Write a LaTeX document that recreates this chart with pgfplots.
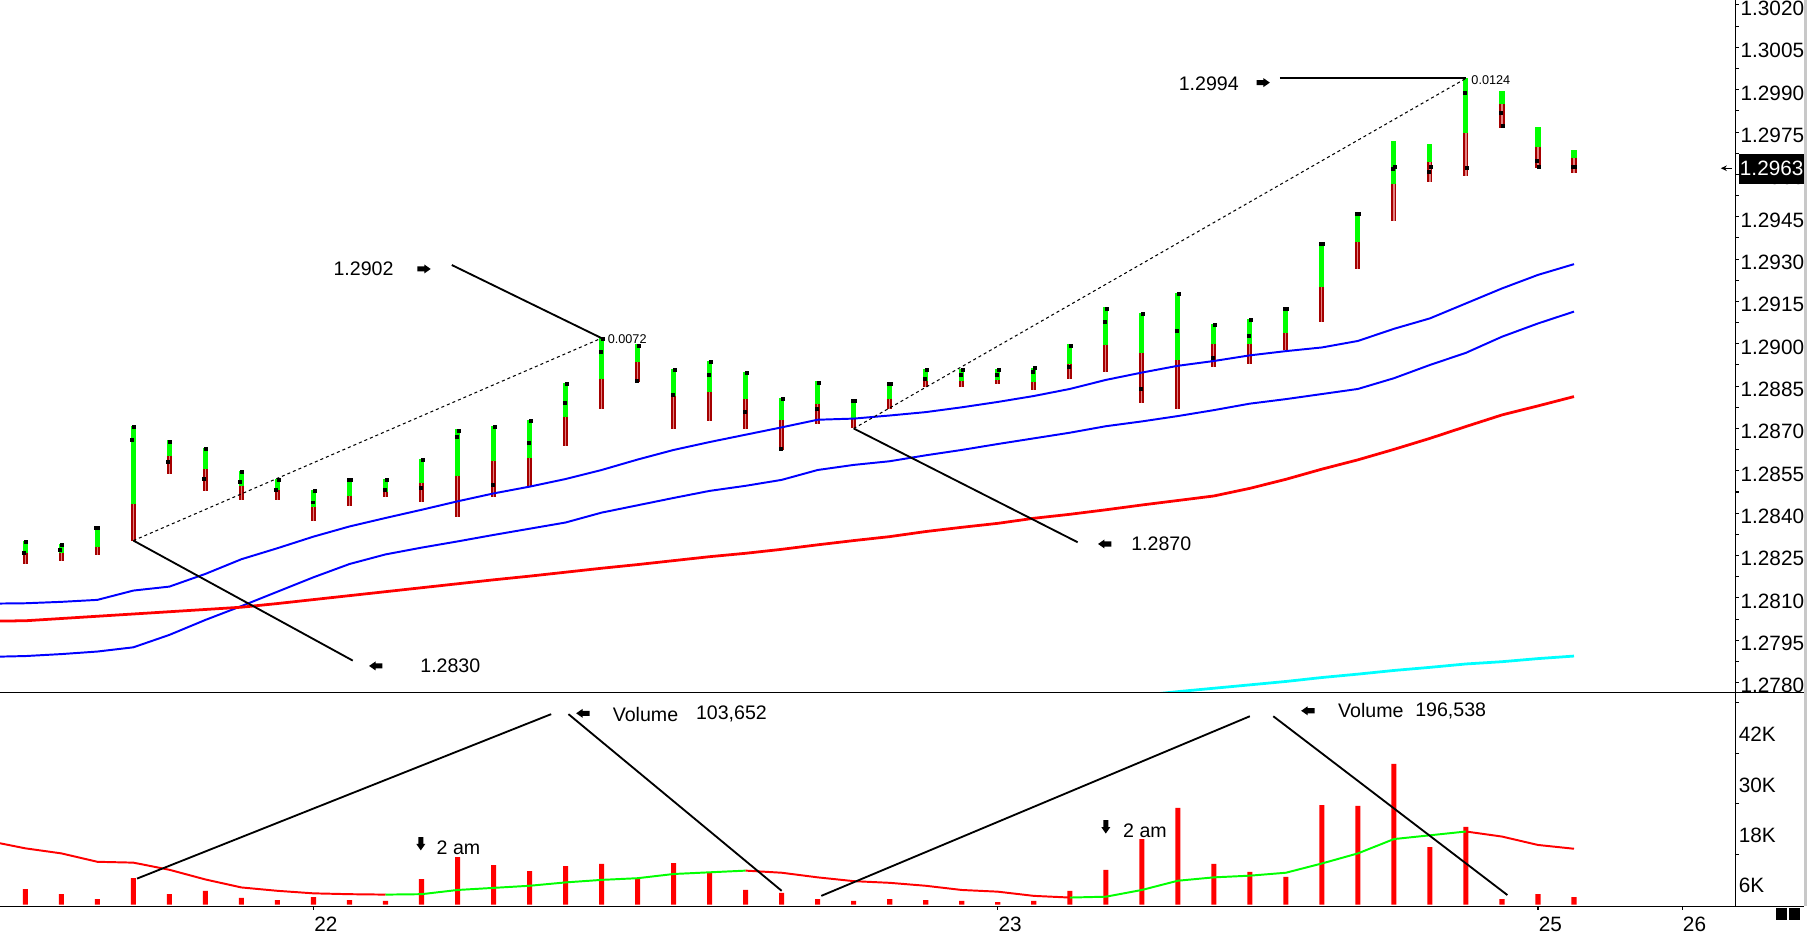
\documentclass[border=0pt]{standalone}
\usepackage{fontspec}
\setmainfont{Liberation Sans}
\usepackage{pgfplots}
\usepackage{pgfplotstable}
\pgfplotsset{compat=1.18}
\usetikzlibrary{arrows.meta}

\definecolor{bargreen}{RGB}{0,255,0}
\definecolor{bardred}{RGB}{165,0,0}
\definecolor{barlred}{RGB}{225,130,130}
\definecolor{mablue}{RGB}{0,0,255}
\definecolor{mared}{RGB}{255,0,0}
\definecolor{macyan}{RGB}{0,255,255}
\definecolor{edgegray}{RGB}{200,200,200}

\newcommand\annfont{\fontsize{8.5}{10}\selectfont}
\newcommand\tickfont{\fontsize{9}{10}\selectfont}
\newcommand\smallfont{\fontsize{5.5}{6}\selectfont}

\tikzset{blockarrow/.pic={\fill[black] (-2.9pt,-1.1pt) -- (0.1pt,-1.1pt) -- (0.1pt,-1.95pt) -- (2.9pt,0pt) -- (0.1pt,1.95pt) -- (0.1pt,1.1pt) -- (-2.9pt,1.1pt) -- cycle;}}

% price bars: high, green/red split, low, open, close
\pgfplotstableread{
i h s l o c
0 1.28302 1.28260 1.28219 1.28258 1.28298
1 1.28291 1.28258 1.28230 1.28270 1.28287
2 1.28351 1.28282 1.28251 1.28348 1.28348
3 1.28709 1.28432 1.28303 1.28658 1.28704
4 1.28658 1.28602 1.28538 1.28580 1.28654
5 1.28630 1.28556 1.28480 1.28520 1.28626
6 1.28548 1.28496 1.28448 1.28509 1.28545
7 1.28521 1.28482 1.28448 1.28481 1.28517
8 1.28481 1.28422 1.28371 1.28438 1.28477
9 1.28520 1.28461 1.28427 1.28516 1.28516
10 1.28521 1.28475 1.28458 1.28481 1.28516
11 1.28591 1.28507 1.28438 1.28488 1.28587
12 1.28697 1.28532 1.28388 1.28670 1.28693
13 1.28708 1.28585 1.28458 1.28499 1.28704
14 1.28729 1.28595 1.28497 1.28647 1.28725
15 1.28860 1.28741 1.28639 1.28789 1.28856
16 1.29020 1.28875 1.28768 1.28970 1.29017
17 1.28999 1.28934 1.28866 1.28870 1.28994
18 1.28909 1.28815 1.28697 1.28817 1.28906
19 1.28938 1.28829 1.28727 1.28888 1.28934
20 1.28900 1.28804 1.28697 1.28757 1.28895
21 1.28808 1.28730 1.28624 1.28629 1.28804
22 1.28867 1.28786 1.28717 1.28768 1.28863
23 1.28798 1.28735 1.28700 1.28797 1.28797
24 1.28860 1.28804 1.28768 1.28856 1.28856
25 1.28909 1.28868 1.28848 1.28877 1.28906
26 1.28909 1.28868 1.28848 1.28888 1.28906
27 1.28909 1.28871 1.28859 1.28888 1.28906
28 1.28916 1.28864 1.28837 1.28901 1.28913
29 1.28998 1.28928 1.28876 1.28918 1.28994
30 1.29129 1.28996 1.28899 1.29079 1.29125
31 1.29108 1.28967 1.28789 1.28839 1.29104
32 1.29179 1.28942 1.28768 1.29047 1.29175
33 1.29069 1.28999 1.28916 1.28950 1.29065
34 1.29088 1.28999 1.28927 1.29026 1.29084
35 1.29129 1.29038 1.28977 1.29125 1.29125
36 1.29356 1.29201 1.29078 1.29352 1.29352
37 1.29465 1.29360 1.29266 1.29461 1.29461
38 1.29718 1.29566 1.29436 1.29618 1.29625
39 1.29706 1.29644 1.29574 1.29607 1.29625
40 1.29940 1.29746 1.29595 1.29887 1.29624
41 1.29894 1.29849 1.29765 1.29816 1.29770
42 1.29767 1.29696 1.29624 1.29646 1.29627
43 1.29686 1.29658 1.29606 1.29625 1.29625
}\pricedata

% moving averages on price
\pgfplotstableread{
i ub lb rd
-0.704 1.28080 1.27892 1.28018
0 1.28081 1.27894 1.28019
1 1.28086 1.27901 1.28027
2 1.28093 1.27910 1.28035
3 1.28126 1.27925 1.28043
4 1.28140 1.27969 1.28051
5 1.28185 1.28022 1.28059
6 1.28237 1.28071 1.28067
7 1.28276 1.28122 1.28080
8 1.28317 1.28173 1.28094
9 1.28353 1.28220 1.28108
10 1.28383 1.28254 1.28122
11 1.28412 1.28278 1.28136
12 1.28442 1.28300 1.28150
13 1.28470 1.28323 1.28164
14 1.28494 1.28345 1.28177
15 1.28521 1.28367 1.28191
16 1.28553 1.28402 1.28205
17 1.28590 1.28428 1.28218
18 1.28624 1.28454 1.28232
19 1.28652 1.28479 1.28246
20 1.28678 1.28497 1.28258
21 1.28704 1.28518 1.28272
22 1.28731 1.28553 1.28288
23 1.28735 1.28571 1.28303
24 1.28746 1.28584 1.28317
25 1.28758 1.28605 1.28335
26 1.28775 1.28624 1.28350
27 1.28794 1.28645 1.28364
28 1.28815 1.28665 1.28382
29 1.28840 1.28685 1.28396
30 1.28872 1.28708 1.28412
31 1.28898 1.28725 1.28429
32 1.28922 1.28744 1.28445
33 1.28939 1.28765 1.28461
34 1.28959 1.28788 1.28488
35 1.28974 1.28804 1.28520
36 1.28987 1.28822 1.28556
37 1.29010 1.28840 1.28589
38 1.29053 1.28878 1.28626
39 1.29090 1.28925 1.28665
40 1.29143 1.28968 1.28707
41 1.29196 1.29025 1.28748
42 1.29244 1.29072 1.28780
43 1.29282 1.29114 1.28813
}\madata

\pgfplotstableread{
i cy
31 1.27755
32 1.27768
33 1.27780
34 1.27792
35 1.27804
36 1.27818
37 1.27830
38 1.27843
39 1.27854
40 1.27866
41 1.27874
42 1.27885
43 1.27894
}\cyandata

\pgfplotstableread{
i v
0 3700
1 2500
2 1300
3 6300
4 2500
5 3300
6 1600
7 1100
8 1800
9 1100
10 900
11 6100
12 11300
13 9400
14 8000
15 9200
16 9700
17 6100
18 9900
19 7600
20 3500
21 2800
22 1300
23 900
24 1300
25 1100
26 900
27 600
28 900
29 3300
30 8300
31 15600
32 23000
33 9700
34 7800
35 6600
36 23700
37 23500
38 33500
39 13700
40 18500
41 1300
42 2500
43 1800
}\voldata

\pgfplotstableread{
i m
-0.704 14600
0 13400
1 12200
2 10200
3 10000
4 8300
5 6000
6 4100
7 3300
8 2700
9 2500
10 2400
11 2500
12 3500
13 4000
14 4500
15 5300
16 5900
17 6300
18 7300
19 7700
20 8100
21 7600
22 6500
23 5600
24 5200
25 4500
26 3500
27 3100
28 2100
29 1700
30 1900
31 3500
32 5700
33 6500
34 6900
35 7600
36 9800
37 12200
38 15600
39 16500
40 17400
41 16200
42 14200
43 13300
}\volma

\pgfplotsset{chartbase/.style={
  scale only axis, width=752.9pt,
  xmin=-0.704, xmax=47.48,
  axis y line*=right,
  tick align=outside,
  axis line style={line width=0.45pt, black},
  tick style={black, line width=0.45pt},
  yticklabel style={font=\tickfont, anchor=west, inner sep=0pt},
  clip mode=individual,
  scaled y ticks=false,
},
barseg/.style={only marks, mark=*, mark size=0pt, mark options={draw=none, fill=none}, forget plot}}

\begin{document}
\begin{tikzpicture}
\useasboundingbox (0,0) rectangle (784pt,407pt);
\fill[white] (0,0) rectangle (784pt,407pt);

% ---------------- price panel ----------------
\begin{axis}[chartbase,
  at={(0pt,106.75pt)}, anchor=south west, height=300.25pt,
  ymin=1.277666, ymax=1.302176,
  axis x line=none,
  major tick length=1.5pt, minor tick length=1.5pt,
  ytick={1.2780,1.2795,1.2810,1.2825,1.2840,1.2855,1.2870,1.2885,1.2900,1.2915,1.2930,1.2945,1.2960,1.2975,1.2990,1.3005,1.3020},
  minor y tick num=1,
  yticklabel style={xshift=0.6pt, yshift=-1.4pt, /pgf/number format/.cd, fixed, fixed zerofill, precision=4, assume math mode=true},
]
% bars: green upper part, red lower part
\addplot[barseg,
  error bars/.cd, y dir=plus, y explicit, error mark=none,
  error bar style={line width=2.2pt, draw=bargreen, solid}]
  table[x=i, y=s, y error plus expr=\thisrow{h}-\thisrow{s}] {\pricedata};
\addplot[barseg,
  error bars/.cd, y dir=minus, y explicit, error mark=none,
  error bar style={line width=2.2pt, draw=bardred, solid}]
  table[x=i, y=s, y error minus expr=\thisrow{s}-\thisrow{l}] {\pricedata};
\addplot[barseg,
  error bars/.cd, y dir=minus, y explicit, error mark=none,
  error bar style={line width=0.5pt, draw=barlred, solid}]
  table[x=i, y=s, y error minus expr=\thisrow{s}-\thisrow{l}] {\pricedata};
% open / close dots
\addplot[only marks, mark=square*, mark size=0.65pt, black, forget plot]
  table[x expr=\thisrow{i}-0.028, y=o] {\pricedata};
\addplot[only marks, mark=square*, mark size=0.65pt, black, forget plot]
  table[x expr=\thisrow{i}+0.028, y=c] {\pricedata};
% moving averages
\addplot[mablue, line width=0.85pt, no marks, line join=round] table[x=i, y=ub] {\madata};
\addplot[mablue, line width=0.85pt, no marks, line join=round] table[x=i, y=lb] {\madata};
\addplot[mared, line width=1.2pt, no marks, line join=round] table[x=i, y=rd] {\madata};
\addplot[macyan, line width=1.2pt, no marks, line join=round] table[x=i, y=cy] {\cyandata};

% annotations
\draw[black, line width=0.45pt, dash pattern=on 1.3pt off 1.3pt] (axis cs:3,1.28303) -- (axis cs:16,1.29020);
\draw[black, line width=0.45pt, dash pattern=on 1.3pt off 1.3pt] (axis cs:23,1.28700) -- (axis cs:40,1.29940);
\draw[black, line width=0.8pt] (axis cs:11.84,1.29279) -- (axis cs:16,1.29020);
\draw[black, line width=0.8pt] (axis cs:3,1.28303) -- (axis cs:9.09,1.27878);
\draw[black, line width=0.8pt] (axis cs:23,1.28700) -- (axis cs:29.22,1.28297);
\draw[black, line width=0.8pt] (axis cs:34.83,1.29940) -- (axis cs:40,1.29940);
\node[font=\annfont, inner sep=0pt] at (axis cs:9.39,1.29265) {1.2902};
\pic at (axis cs:11.07,1.29265) {blockarrow};
\node[font=\smallfont, inner sep=0pt, anchor=west] at (axis cs:16.16,1.29018) {0.0072};
\pic[rotate=180] at (axis cs:9.73,1.27859) {blockarrow};
\node[font=\annfont, inner sep=0pt] at (axis cs:11.80,1.27859) {1.2830};
\pic[rotate=180] at (axis cs:29.97,1.28291) {blockarrow};
\node[font=\annfont, inner sep=0pt] at (axis cs:31.54,1.28291) {1.2870};
\node[font=\annfont, inner sep=0pt] at (axis cs:32.86,1.29922) {1.2994};
\pic at (axis cs:34.37,1.29925) {blockarrow};
\node[font=\smallfont, inner sep=0pt, anchor=west] at (axis cs:40.14,1.29934) {0.0124};
\end{axis}

% ---------------- volume panel ----------------
\begin{axis}[chartbase,
  at={(0pt,13.9pt)}, anchor=south west, height=92.85pt,
  ymin=-317, ymax=50556,
  axis x line*=bottom,
  major tick length=0pt, minor tick length=1.6pt,
  xtick={8,27,42,46}, xticklabels={22,23,25,26},
  minor xtick={8,27,42,46},
  xticklabel style={font=\tickfont, anchor=north west, inner sep=0pt, xshift=0.2pt, yshift=-4.6pt},
  ytick={4700,16600,28300,40400}, yticklabels={6K,18K,30K,42K},
  minor ytick={12000,24000,36000,48000},
  yticklabel style={xshift=1.3pt},
]
\addplot[ybar, bar width=2.2pt, bar shift=0pt, fill=mared, draw=none, forget plot] table[x=i, y=v] {\voldata};
\addplot[mared, line width=0.85pt, no marks, restrict x to domain=-1:10] table[x=i, y=m] {\volma};
\addplot[bargreen, line width=0.85pt, no marks, restrict x to domain=10:20] table[x=i, y=m] {\volma};
\addplot[mared, line width=0.85pt, no marks, restrict x to domain=20:29] table[x=i, y=m] {\volma};
\addplot[bargreen, line width=0.85pt, no marks, restrict x to domain=29:40] table[x=i, y=m] {\volma};
\addplot[mared, line width=0.85pt, no marks, restrict x to domain=40:44] table[x=i, y=m] {\volma};

\draw[black, line width=0.8pt] (axis cs:3.1,6200) -- (axis cs:14.6,45300);
\draw[black, line width=0.8pt] (axis cs:15.08,45300) -- (axis cs:21.0,3300);
\draw[black, line width=0.8pt] (axis cs:22.1,2100) -- (axis cs:34.0,44800);
\draw[black, line width=0.8pt] (axis cs:34.65,44800) -- (axis cs:41.15,2300);
\pic[rotate=180] at (axis cs:15.48,45500) {blockarrow};
\node[font=\annfont, inner sep=0pt, anchor=west] at (axis cs:16.30,45300) {Volume};
\node[font=\annfont, inner sep=0pt, anchor=west] at (axis cs:18.61,45300) {103,652};
\pic[rotate=180] at (axis cs:35.61,46100) {blockarrow};
\node[font=\annfont, inner sep=0pt, anchor=west] at (axis cs:36.44,46100) {Volume};
\node[font=\annfont, inner sep=0pt, anchor=west] at (axis cs:38.58,46100) {196,538};
\pic[rotate=-90] at (axis cs:10.98,14500) {blockarrow};
\node[font=\annfont, inner sep=0pt, anchor=west] at (axis cs:11.41,13600) {2 am};
\pic[rotate=-90] at (axis cs:30.0,18500) {blockarrow};
\node[font=\annfont, inner sep=0pt, anchor=west] at (axis cs:30.47,17500) {2 am};
\end{axis}

% frame lines, price tag and corner marks
\draw[black, line width=0.45pt] (0,106.75pt) -- (782.8pt,106.75pt);
\draw[black, line width=0.45pt] (0,13.9pt) -- (782.8pt,13.9pt);
\fill[edgegray] (782.8pt,13.9pt) rectangle (784pt,407pt);
\node[fill=black, text=white, font=\tickfont, anchor=west, inner xsep=0.3pt, minimum height=9.5pt] at (754.4pt,333.75pt) {1.2963};
\draw[black, line width=0.45pt, -{Stealth[length=2.6pt,width=2.4pt]}] (751.4pt,334pt) -- (746.6pt,334pt);
\fill[black] (770.5pt,8pt) rectangle (775.5pt,13pt);
\fill[black] (776pt,8pt) rectangle (781pt,13pt);
\end{tikzpicture}
\end{document}
